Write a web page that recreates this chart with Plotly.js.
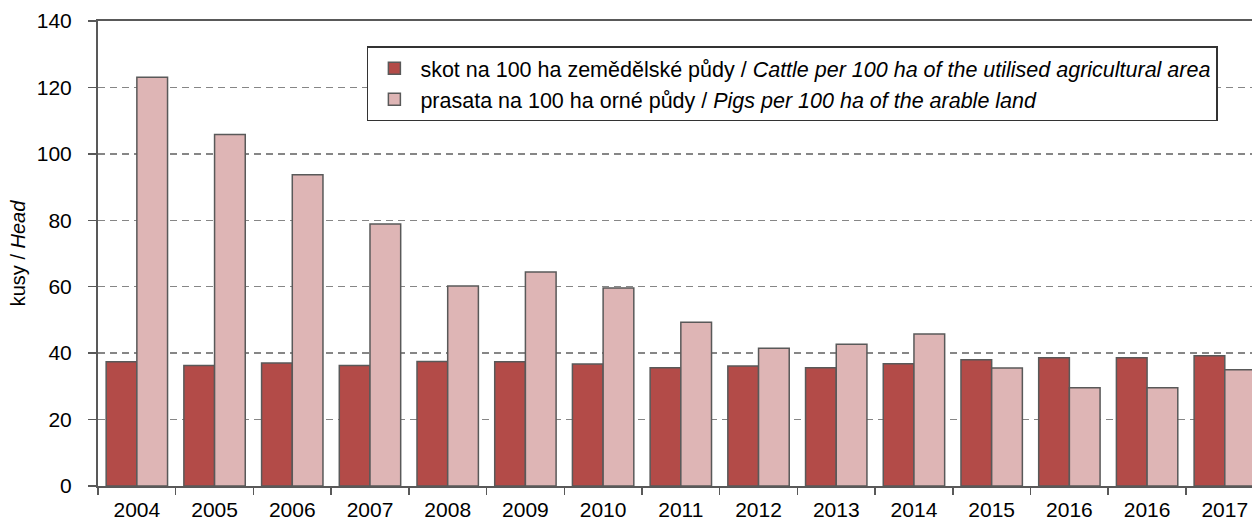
<!DOCTYPE html>
<html>
<head>
<meta charset="utf-8">
<script src="https://cdn.plot.ly/plotly-3.0.1.min.js"></script>
<style>
html,body{margin:0;padding:0;background:#fff;}
#chart{width:1252px;height:522px;}
</style>
</head>
<body>
<div id="chart"></div>
<script>
// Data
var years = ["2004","2005","2006","2007","2008","2009","2010","2011","2012","2013","2014","2015","2016","2016","2017"];
var cattle = [37.4, 36.3, 37.0, 36.3, 37.5, 37.4, 36.7, 35.6, 36.1, 35.6, 36.8, 38.0, 38.6, 38.6, 39.2];
var pigs = [123.1, 105.8, 93.7, 78.9, 60.2, 64.4, 59.6, 49.3, 41.5, 42.7, 45.8, 35.5, 29.6, 29.6, 35.0];
var cattleName = "skot na 100 ha zemědělské půdy / <i>Cattle per 100 ha of the utilised agricultural area</i>";
var pigsName = "prasata na 100 ha orné půdy / <i>Pigs per 100 ha of the arable land</i>";
var yTicks = [0, 20, 40, 60, 80, 100, 120, 140];

var idx = years.map(function(_, i){ return i; });
var bounds = years.map(function(_, i){ return i - 0.5; }).concat([years.length - 0.5]);

var FONT = "Liberation Sans, Arial, sans-serif";
var lineCol = "#595959";

var traces = [
  {type:"bar", x: idx, y: cattle, name: cattleName, legendgroup:"a",
   marker:{color:"#B34B48", line:{color:lineCol, width:1.5}}},
  {type:"bar", x: idx, y: pigs, name: pigsName, legendgroup:"b",
   marker:{color:"#DEB5B5", line:{color:lineCol, width:1.5}}}
];

var layout = {
  width:1252, height:522,
  margin:{l:98, r:0, t:21, b:36},
  paper_bgcolor:"#fff", plot_bgcolor:"#fff",
  font:{family:FONT, size:21, color:"#000"},
  barmode:"group", bargap:0.21, bargroupgap:0,
  showlegend:true,
  legend:{x:0.233, y:0.9456, xanchor:"left", yanchor:"top",
          bgcolor:"#fff", bordercolor:"#333", borderwidth:1.5,
          itemwidth:42, tracegroupgap:4,
          font:{family:FONT, size:21.5, color:"#000"}, traceorder:"normal"},
  xaxis:{
    range:[-0.5, 14.35], tickmode:"array", tickvals: idx, ticktext: years,
    ticks:"", showgrid:false, zeroline:false,
    showline:true, linecolor:lineCol, linewidth:2, mirror:true,
    ticklabelstandoff:4,
    tickfont:{family:FONT, size:21, color:"#000"},
    minor:{tickmode:"array", tickvals: bounds, ticks:"outside", ticklen:7,
           tickwidth:1.5, tickcolor:lineCol, showgrid:false}
  },
  yaxis:{
    range:[0,140], tickmode:"array", tickvals: yTicks,
    ticks:"outside", ticklen:8, tickwidth:1.5, tickcolor:lineCol,
    showline:true, linecolor:lineCol, linewidth:2,
    showgrid:true, gridcolor:"#868686", gridwidth:1.5, griddash:"7px,5px",
    zeroline:false, ticklabelstandoff:12,
    tickfont:{family:FONT, size:21, color:"#000"},
    automargin:true,
    title:{text:"kusy / <i>Head</i>", standoff:6, font:{family:FONT, size:20, color:"#000"}}
  }
};

Plotly.newPlot("chart", traces, layout, {displayModeBar:false, staticPlot:true});
</script>
</body>
</html>
